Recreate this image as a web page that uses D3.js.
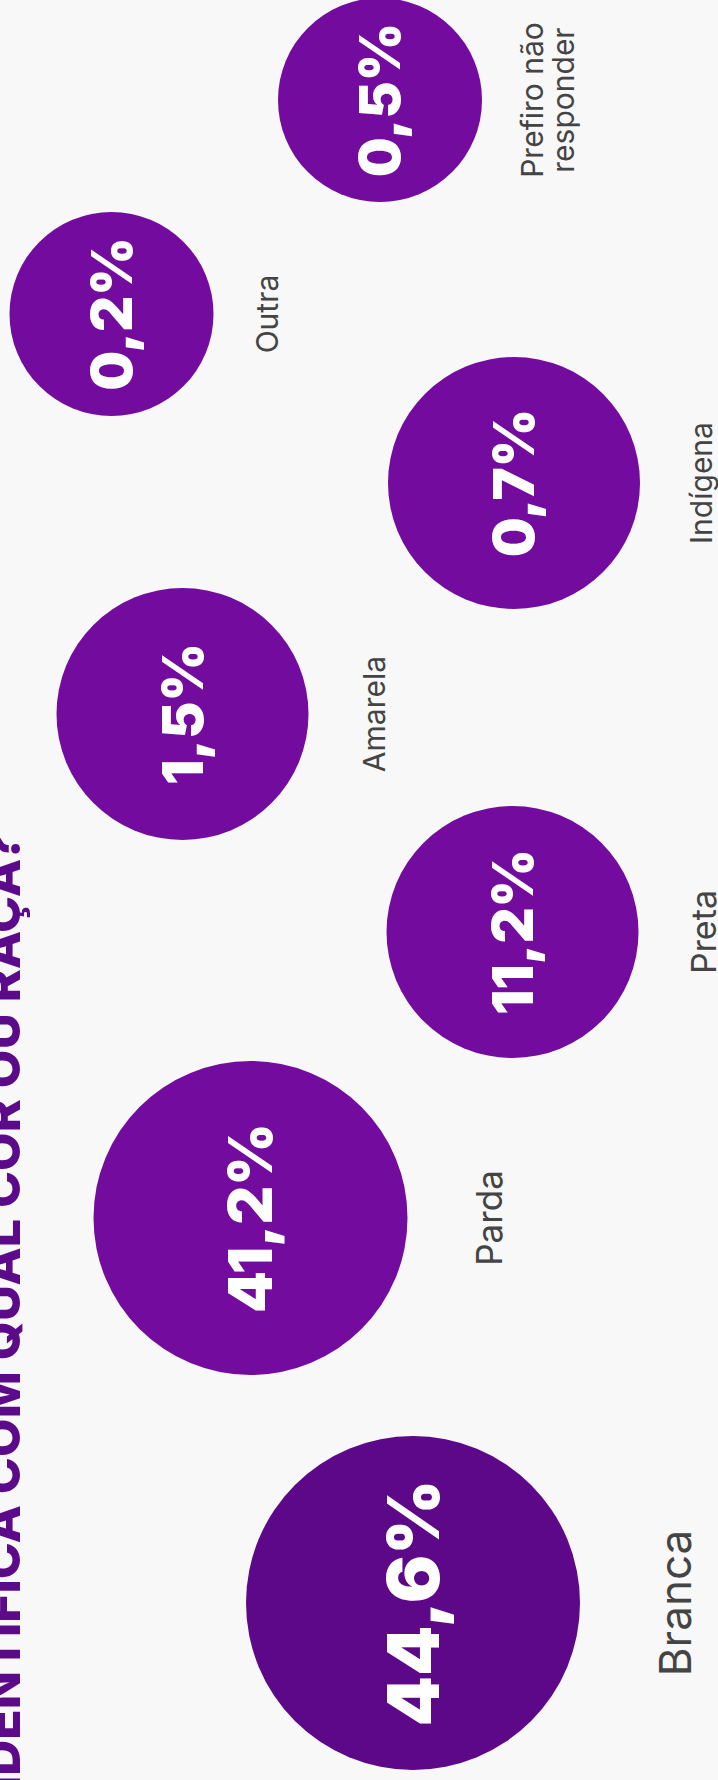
<!DOCTYPE html>
<html>
<head>
<meta charset="utf-8">
<script src="https://cdn.jsdelivr.net/npm/d3@7"></script>
<style>
  html, body { margin: 0; padding: 0; background: #f8f8f8; }
  svg { display: block; }
</style>
</head>
<body>
<div id="chart"></div>
<script>
// ---- data ----
const title = "VOCÊ SE IDENTIFICA COM QUAL COR OU RAÇA?";
const categories = ["Branca", "Parda", "Preta", "Amarela", "Indígena", "Outra", "Prefiro não responder"];
const labelLines = [["Branca"], ["Parda"], ["Preta"], ["Amarela"], ["Indígena"], ["Outra"], ["Prefiro não", "responder"]];
const values = [44.6, 41.2, 11.2, 1.5, 0.7, 0.2, 0.5];

// ---- layout (unrotated frame: along = horizontal axis, across = vertical) ----
const W = 718, H = 1780;
const along  = [177, 562, 848, 1066, 1297, 1466, 1680];   // bubble centers along the strip
const across = [413, 250.5, 512.5, 182.5, 514, 111.5, 380]; // bubble centers across the strip
const labelBase = [691, 502, 716, 385, 712, 278, 543];     // label baselines

const br = d3.formatLocale({decimal: ",", thousands: ".", grouping: [3], currency: ["R$", ""]});
const fmt = v => br.format(".1f")(v) + "%";

const rScale = d3.scaleThreshold().domain([0.6, 20, 42]).range([102, 126, 157, 167]);
const pctSize = d3.scaleThreshold().domain([20, 42]).range([56, 60, 72]);
const labSize = d3.scaleThreshold().domain([5, 20, 42]).range([30, 34, 35, 44]);
const fill = d3.scaleThreshold().domain([42]).range(["#720b9e", "#5d0889"]);

const svg = d3.select("#chart").append("svg")
  .attr("width", W).attr("height", H)
  .style("background", "#f8f8f8");

// rotate: (X,Y) -> (Y, H - X)
const g = svg.append("g").attr("transform", `translate(0,${H}) rotate(-90)`);

g.append("text")
  .attr("x", 947).attr("y", 20)
  .attr("text-anchor", "end")
  .attr("font-family", "Inter, 'Open Sans', sans-serif")
  .attr("font-weight", 800)
  .attr("font-size", 50)
  .attr("fill", "#5b0a8a")
  .text(title);

const data = categories.map((c, i) => ({c, v: values[i], x: along[i], y: across[i], lb: labelBase[i], lines: labelLines[i]}));

const node = g.selectAll("g.node").data(data).join("g").attr("class", "node");

node.append("circle")
  .attr("cx", d => d.x).attr("cy", d => d.y)
  .attr("r", d => rScale(d.v))
  .attr("fill", d => fill(d.v));

node.append("text")
  .attr("x", d => d.x).attr("y", d => d.y)
  .attr("dy", "0.36em")
  .attr("text-anchor", "middle")
  .attr("font-family", "Inter, 'Open Sans', sans-serif")
  .attr("font-weight", 900)
  .attr("font-size", d => pctSize(d.v))
  .attr("fill", "#ffffff")
  .text(d => fmt(d.v));

const lab = node.append("text")
  .attr("text-anchor", "middle")
  .attr("font-family", "Inter, 'Open Sans', sans-serif")
  .attr("font-weight", 400)
  .attr("font-size", d => labSize(d.v))
  .attr("fill", "#444444");

lab.selectAll("tspan").data(d => d.lines.map((t, k) => ({t, k, d}))).join("tspan")
  .attr("x", o => o.d.x)
  .attr("y", o => o.d.lb + o.k * 31)
  .text(o => o.t);
</script>
</body>
</html>
